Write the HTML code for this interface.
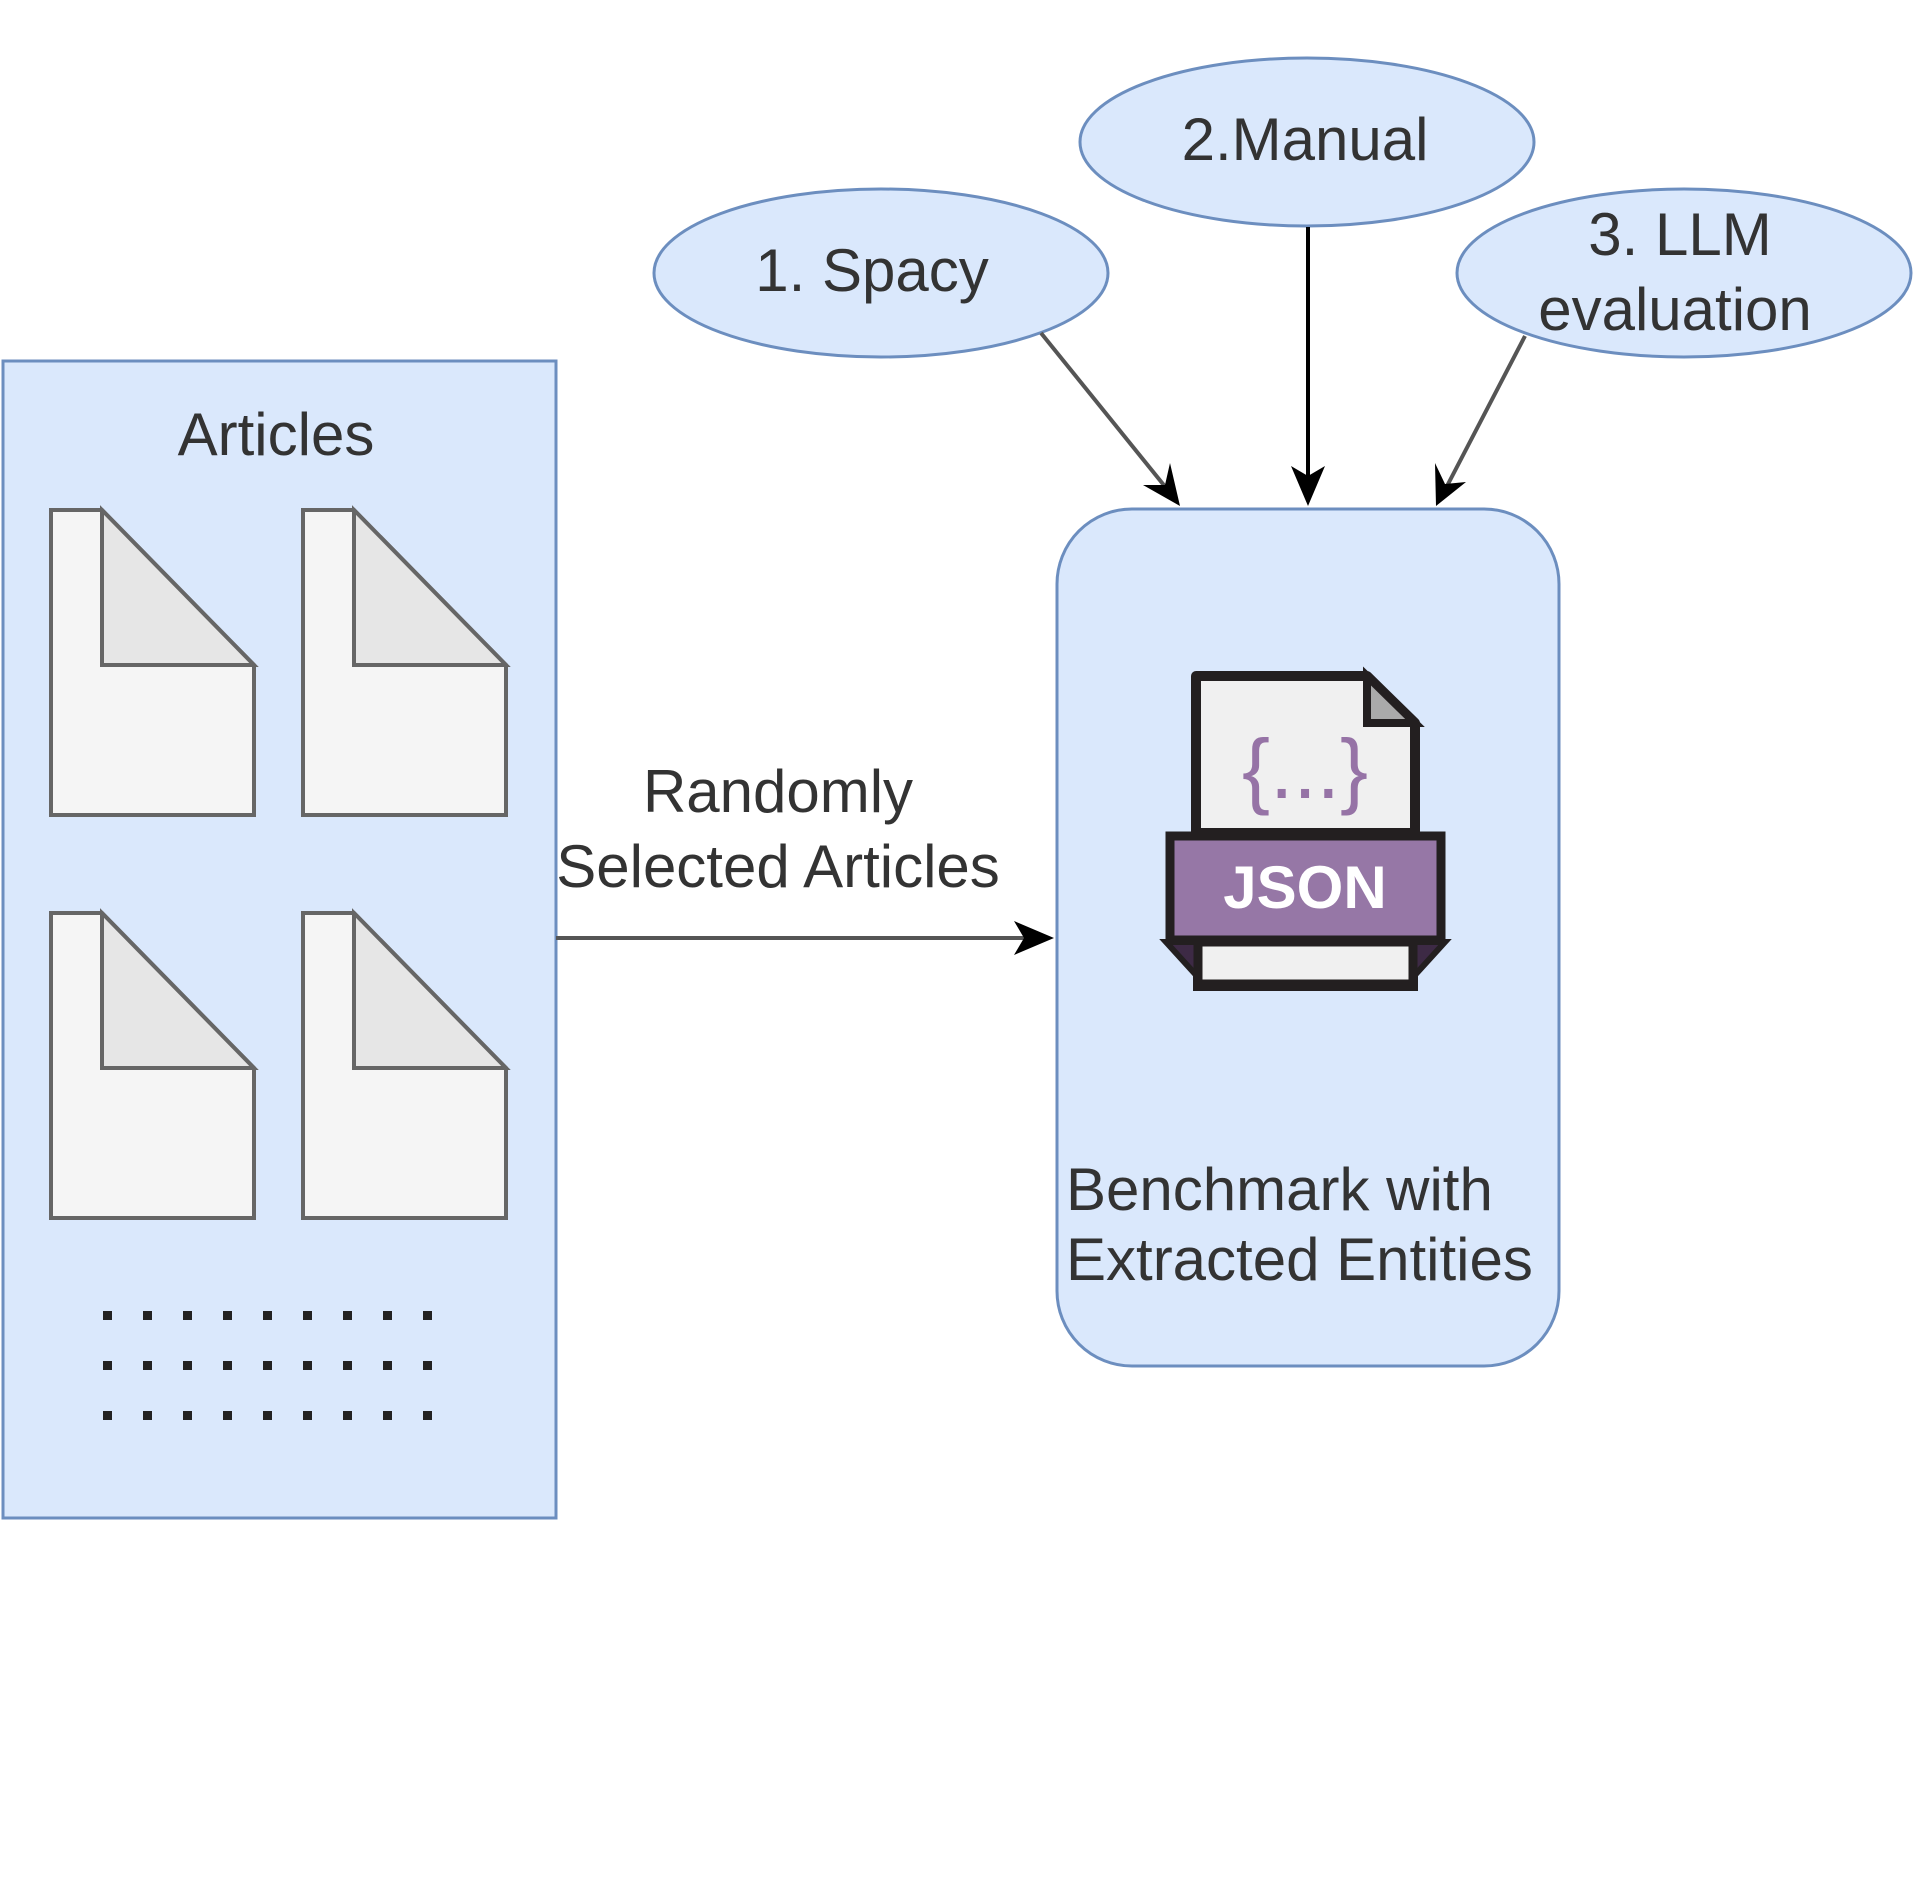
<!DOCTYPE html>
<html><head><style>html,body{margin:0;padding:0;background:#fff;}svg{display:block;}</style></head>
<body>
<svg width="1913" height="1878" viewBox="0 0 1913 1878" xmlns="http://www.w3.org/2000/svg" font-family="Liberation Sans, sans-serif">
<!-- Articles container -->
<rect x="3" y="361" width="553" height="1157" fill="#dae8fc" stroke="#6c8ebf" stroke-width="3"/>
<text x="276" y="455" font-size="60" text-anchor="middle" fill="#333">Articles</text>
<g fill="#f5f5f5" stroke="#666" stroke-width="4">
<g id="d1">
<path d="M51 510 H102 L254 665 V815 H51 Z"/>
<path d="M102 510 V665 H254 Z" fill="#e6e6e6"/>
</g>
<use href="#d1" x="252"/>
<use href="#d1" y="403"/>
<use href="#d1" x="252" y="403"/>
</g>
<g fill="#222">
<g id="row">
<rect x="103" y="1311" width="9" height="9"/><rect x="143" y="1311" width="9" height="9"/><rect x="183" y="1311" width="9" height="9"/><rect x="223" y="1311" width="9" height="9"/><rect x="263" y="1311" width="9" height="9"/><rect x="303" y="1311" width="9" height="9"/><rect x="343" y="1311" width="9" height="9"/><rect x="383" y="1311" width="9" height="9"/><rect x="423" y="1311" width="9" height="9"/>
</g>
<use href="#row" y="50"/><use href="#row" y="100"/>
</g>
<!-- JSON box -->
<rect x="1057" y="509" width="502" height="857" rx="75" fill="#dae8fc" stroke="#6c8ebf" stroke-width="3"/>
<path d="M1196 676 H1367 L1415 723 V833 H1196 Z" fill="#f0f0f0" stroke="#231f20" stroke-width="10" stroke-linejoin="round"/>
<path d="M1367 676 V723 H1415 Z" fill="#aaa" stroke="#231f20" stroke-width="8"/>
<text x="1305" y="798" font-size="84" text-anchor="middle" fill="#9673a6">{...}</text>
<path d="M1166 942 L1196 975 V988 H1415 V975 L1445 942 Z" fill="#3d2a45" stroke="#231f20" stroke-width="6"/>
<rect x="1198" y="942" width="215" height="42" fill="#f0f0f0" stroke="#231f20" stroke-width="9"/>
<rect x="1170" y="836" width="271" height="104" fill="#9677a6" stroke="#231f20" stroke-width="9"/>
<text x="1305" y="908" font-size="60" font-weight="bold" text-anchor="middle" fill="#fff">JSON</text>
<text font-size="60" fill="#333"><tspan x="1066" y="1210">Benchmark with</tspan><tspan x="1066" y="1280">Extracted Entities</tspan></text>
<!-- horizontal arrow -->
<line x1="556" y1="938" x2="1030" y2="938" stroke="#555" stroke-width="4"/>
<path d="M1054 938 L1014 921 L1024 938 L1014 955 Z" fill="#000"/>
<text font-size="60" fill="#333" text-anchor="middle"><tspan x="778" y="812">Randomly</tspan><tspan x="778" y="887">Selected Articles</tspan></text>
<!-- ellipses -->
<ellipse cx="881" cy="273" rx="227" ry="84" fill="#dae8fc" stroke="#6c8ebf" stroke-width="3"/>
<text x="872" y="291" font-size="60" text-anchor="middle" fill="#333">1. Spacy</text>
<ellipse cx="1307" cy="142" rx="227" ry="84" fill="#dae8fc" stroke="#6c8ebf" stroke-width="3"/>
<text x="1305" y="160" font-size="60" text-anchor="middle" fill="#333">2.Manual</text>
<ellipse cx="1684" cy="273" rx="227" ry="84" fill="#dae8fc" stroke="#6c8ebf" stroke-width="3"/>
<text font-size="60" text-anchor="middle" fill="#333"><tspan x="1680" y="255">3. LLM</tspan><tspan x="1675" y="330">evaluation</tspan></text>
<!-- top arrows -->
<line x1="1041" y1="333" x2="1167" y2="489" stroke="#555" stroke-width="4"/>
<path d="M1180 506 L1170 463 L1165 485 L1143 485 Z" fill="#000"/>
<line x1="1308" y1="227" x2="1308" y2="485" stroke="#000" stroke-width="4"/>
<path d="M1308 506 L1291 466 L1308 476 L1325 466 Z" fill="#000"/>
<line x1="1525" y1="336" x2="1446" y2="488" stroke="#555" stroke-width="4"/>
<path d="M1436 506 L1435 463 L1445 484 L1466 482 Z" fill="#000"/>
</svg>
</body></html>
